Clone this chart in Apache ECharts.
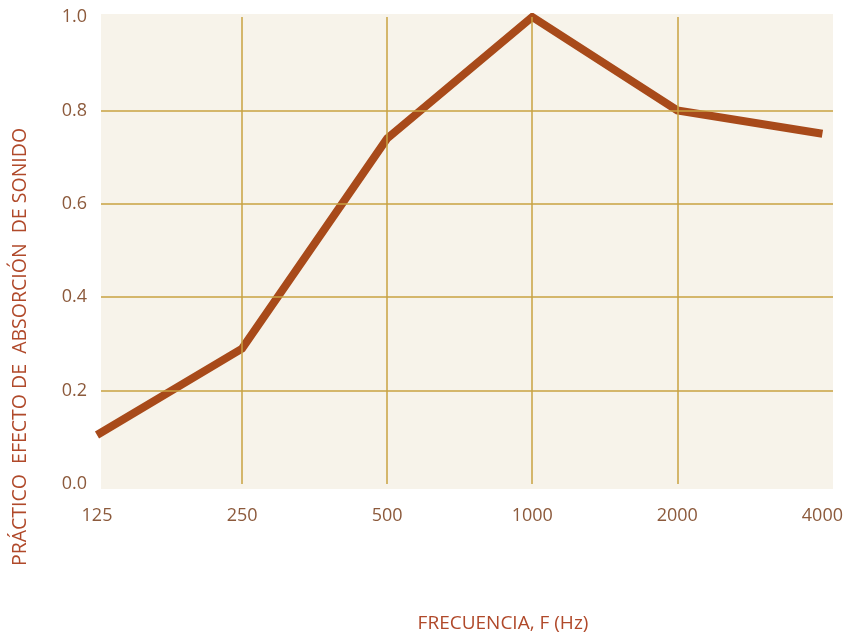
<!DOCTYPE html>
<html>
<head>
<meta charset="utf-8">
<script src="https://cdn.jsdelivr.net/npm/echarts@6/dist/echarts.min.js"></script>
<style>
html,body{margin:0;padding:0;background:#ffffff;}
#chart{width:846px;height:633px;}
</style>
</head>
<body>
<div id="chart"></div>
<script>
const categories = ['125', '250', '500', '1000', '2000', '4000'];
const absorption = [0.105, 0.29, 0.74, 1.0, 0.80, 0.75];
const yTicks = [0, 0.2, 0.4, 0.6, 0.8, 1.0];
const yTitle = 'PRÁCTICO  EFECTO DE  ABSORCIÓN  DE SONIDO';
const xTitle = 'FRECUENCIA, F (Hz)';

const chart = echarts.init(document.getElementById('chart'), null, {renderer: 'canvas'});
const labelColor = '#8c5a3c';
const titleColor = '#b0492a';
const gridColor = '#c9a240';
const plotTop = 17, plotBottom = 484;
chart.setOption({
  backgroundColor: '#ffffff',
  animation: false,
  graphic: [
    {type: 'rect', z: -10, shape: {x: 101, y: 14, width: 732, height: 475}, style: {fill: '#f7f3ea'}, silent: true},
    {type: 'text', z: 10, rotation: Math.PI / 2, x: 20, y: 347,
     style: {text: yTitle, fill: titleColor, font: '19.5px "Open Sans", sans-serif', align: 'center', verticalAlign: 'middle'}},
    {type: 'text', z: 10, x: 503, y: 624,
     style: {text: xTitle, fill: titleColor, font: '19px "Open Sans", sans-serif', align: 'center', verticalAlign: 'middle'}}
  ],
  grid: [
    {left: 97, right: 20, top: plotTop, bottom: 633 - plotBottom, containLabel: false},
    {left: 101, right: 13, top: plotTop, bottom: 633 - plotBottom, containLabel: false}
  ],
  xAxis: [{
    type: 'category',
    gridIndex: 0,
    data: categories,
    boundaryGap: false,
    z: 5,
    axisLine: {show: false},
    axisTick: {show: false},
    axisLabel: {color: labelColor, fontFamily: 'Open Sans', fontSize: 18, margin: 23},
    splitLine: {show: true, interval: function (i) { return i > 0 && i < categories.length - 1; }, lineStyle: {color: gridColor, width: 1.5}}
  }, {
    type: 'value',
    gridIndex: 1,
    min: 0, max: 1,
    show: false
  }],
  yAxis: [{
    type: 'value',
    gridIndex: 0,
    min: 0,
    max: 1,
    interval: 0.2,
    z: 5,
    axisLine: {show: false},
    axisTick: {show: false},
    axisLabel: {color: labelColor, fontFamily: 'Open Sans', fontSize: 18, margin: 10,
      formatter: function (v) { return v.toFixed(1); }},
    splitLine: {show: false}
  }, {
    type: 'value',
    gridIndex: 1,
    min: 0,
    max: 1,
    interval: 0.2,
    z: 5,
    axisLine: {show: false},
    axisTick: {show: false},
    axisLabel: {show: false},
    splitLine: {show: true, showMinLine: false, showMaxLine: false, lineStyle: {color: gridColor, width: 1.5}}
  }],
  series: [{
    type: 'line',
    xAxisIndex: 0,
    yAxisIndex: 0,
    data: absorption,
    symbol: 'none',
    z: 2,
    lineStyle: {color: '#a84a1a', width: 8, cap: 'butt', join: 'miter'}
  }]
});
</script>
</body>
</html>
